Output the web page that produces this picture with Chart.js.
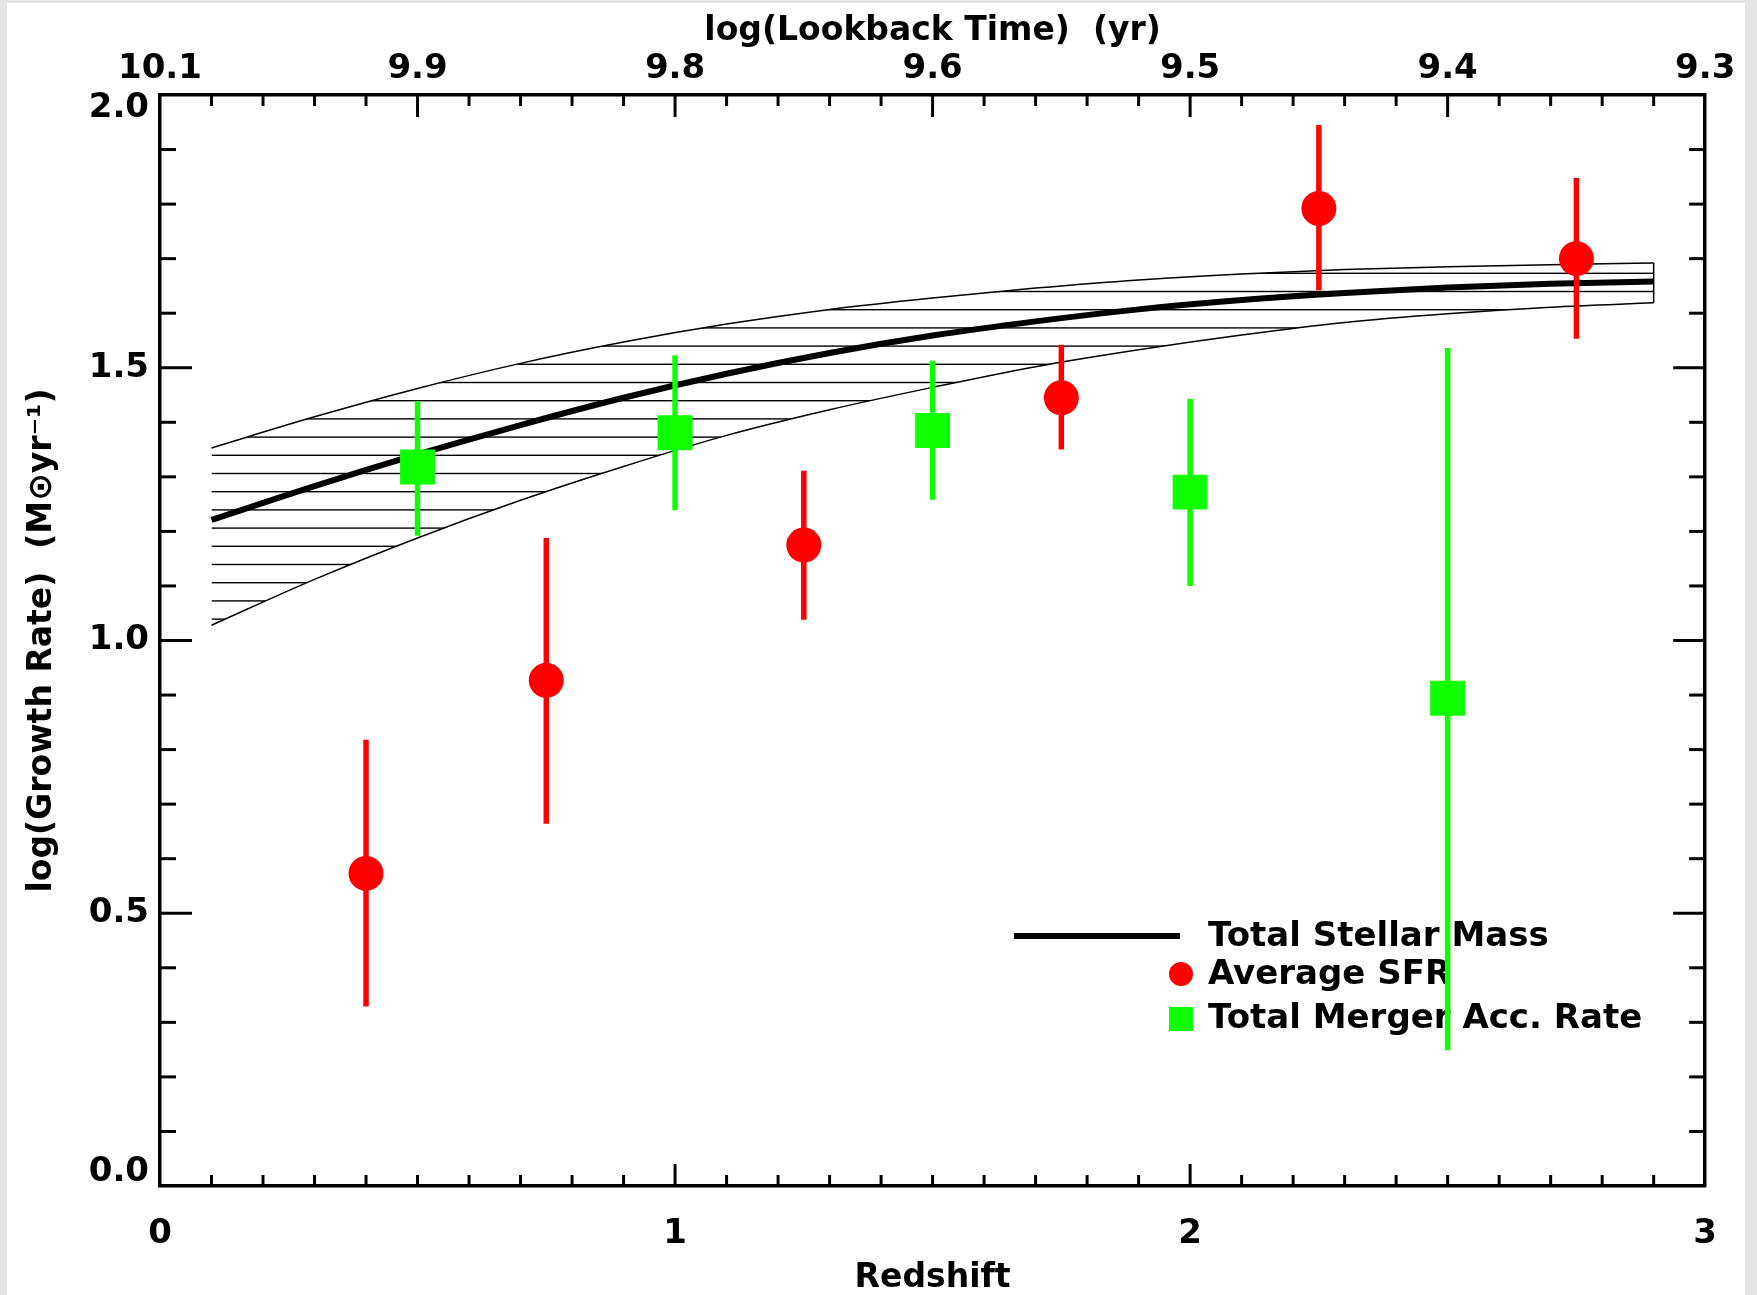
<!DOCTYPE html>
<html lang="en">
<head>
    <meta charset="UTF-8">
    <title>Growth Rate vs Redshift</title>
    <script src="https://cdn.jsdelivr.net/npm/chart.js"></script>
    <style>
        body { margin: 0; background: #e6e6e6; width: 1757px; height: 1295px; overflow: hidden; }
        #wrap { position: absolute; left: 7px; top: 3px; width: 1738px; height: 1292px; background: #fff; }
    </style>
</head>
<body>
    <div id="wrap">
        <canvas id="myChart" width="1738" height="1292"></canvas>
    </div>

<script>
// band of total stellar mass growth (redshift, lower, mid, upper)
const bandZ  = [0.1, 0.3, 0.5, 0.7, 0.9, 1.1, 1.3, 1.5, 1.7, 1.9, 2.1, 2.3, 2.5, 2.7, 2.9];
const massLo = [1.028, 1.112, 1.188, 1.257, 1.319, 1.376, 1.423, 1.464, 1.502, 1.533, 1.560, 1.583, 1.599, 1.611, 1.619];
const massMid = [1.221, 1.283, 1.341, 1.395, 1.445, 1.489, 1.527, 1.559, 1.585, 1.607, 1.624, 1.637, 1.647, 1.654, 1.658];
const massHi = [1.353, 1.410, 1.462, 1.508, 1.547, 1.580, 1.607, 1.628, 1.646, 1.661, 1.672, 1.680, 1.685, 1.689, 1.692];

// average SFR (red circles)
const sfrZ   = [0.4, 0.75, 1.25, 1.75, 2.25, 2.75];
const sfrVal = [0.573, 0.927, 1.175, 1.445, 1.792, 1.700];
const sfrLo  = [0.329, 0.664, 1.038, 1.350, 1.642, 1.553];
const sfrHi  = [0.818, 1.188, 1.311, 1.542, 1.945, 1.848];

// total merger accretion rate (green squares)
const mergerZ   = [0.5, 1.0, 1.5, 2.0, 2.5];
const mergerVal = [1.318, 1.381, 1.385, 1.272, 0.894];
const mergerLo  = [1.192, 1.239, 1.258, 1.100, 0.249];
const mergerHi  = [1.439, 1.523, 1.513, 1.443, 1.536];

// tick labels
const bottomTickPos = [0, 1, 2, 3];
const bottomTickLabels = ['0', '1', '2', '3'];
const topTickPos = [0, 0.5, 1, 1.5, 2, 2.5, 3];
const topTickLabels = ['10.1', '9.9', '9.8', '9.6', '9.5', '9.4', '9.3'];

const RED = '#ff0000';
const GREEN = '#10ff00';
const FONT = "'DejaVu Sans', sans-serif";

Chart.defaults.font.family = FONT;
Chart.defaults.color = '#000';

// horizontal hatch pattern for the band
const hatch = document.createElement('canvas');
hatch.width = 8;
hatch.height = 91;
const hctx = hatch.getContext('2d');
hctx.strokeStyle = '#000';
hctx.lineWidth = 1.4;
for (let k = 0; k < 5; k++) {
    const yy = (33.7 + 18.2 * k) % 91;
    hctx.beginPath();
    hctx.moveTo(0, yy);
    hctx.lineTo(8, yy);
    hctx.stroke();
}
const canvas = document.getElementById('myChart');
const hatchPattern = canvas.getContext('2d').createPattern(hatch, 'repeat');

const toPts = (xs, ys) => xs.map((x, i) => ({x: x, y: ys[i]}));

// vertical error bar segments, broken with nulls
function errBars(xs, lo, hi) {
    const pts = [];
    xs.forEach((x, i) => {
        pts.push({x: x, y: lo[i]}, {x: x, y: hi[i]}, {x: x, y: null});
    });
    return pts;
}

const last = bandZ.length - 1;

// inward ticks on all four sides
const tickPlugin = {
    id: 'inTicks',
    afterDraw(chart) {
        const {ctx, chartArea: a, scales} = chart;
        const seg = (x1, y1, x2, y2) => { ctx.beginPath(); ctx.moveTo(x1, y1); ctx.lineTo(x2, y2); ctx.stroke(); };
        ctx.save();
        ctx.strokeStyle = '#000';
        ctx.lineWidth = 3;
        for (let i = 1; i < 30; i++) {
            const px = scales.x.getPixelForValue(i / 10);
            seg(px, a.bottom, px, a.bottom - (i % 10 === 0 ? 22 : 11));
            seg(px, a.top, px, a.top + (i % 5 === 0 ? 22 : 11));
        }
        for (let i = 1; i < 20; i++) {
            const py = scales.y.getPixelForValue(i / 10);
            const len = i % 5 === 0 ? 32 : 16;
            seg(a.left, py, a.left + len, py);
            seg(a.right, py, a.right - len, py);
        }
        ctx.restore();
    }
};

// legend inside the plot, drawn under the data
const legendPlugin = {
    id: 'insideLegend',
    beforeDatasetsDraw(chart) {
        const ctx = chart.ctx;
        ctx.save();
        ctx.strokeStyle = '#000';
        ctx.lineWidth = 6;
        ctx.beginPath();
        ctx.moveTo(1007, 933);
        ctx.lineTo(1173, 933);
        ctx.stroke();
        ctx.fillStyle = RED;
        ctx.beginPath();
        ctx.arc(1174, 971, 12, 0, Math.PI * 2);
        ctx.fill();
        ctx.fillStyle = GREEN;
        ctx.fillRect(1162, 1004, 24, 24);
        ctx.fillStyle = '#000';
        ctx.font = 'bold 34px ' + FONT;
        ctx.textBaseline = 'middle';
        ctx.textAlign = 'left';
        ctx.fillText('Total Stellar Mass', 1201, 934);
        ctx.fillText('Average SFR', 1201, 972);
        ctx.fillText('Total Merger Acc. Rate', 1201, 1016);
        ctx.restore();
    }
};

const border = {display: true, color: '#000', width: 3.5};
const tickFont = {size: 34, weight: 'bold'};
const yTickFont = {size: 34, weight: 'bold', lineHeight: 0.8};
const titleFont = {size: 33, weight: 'bold'};
const bottomTitleFont = {size: 33, weight: 'bold', lineHeight: 1.0};

const bandLine = {borderColor: '#000', pointRadius: 0, cubicInterpolationMode: 'monotone'};

const config = {
    type: 'line',
    data: {
        datasets: [{
            label: 'Average SFR',
            data: toPts(sfrZ, sfrVal),
            showLine: false,
            pointStyle: 'circle',
            pointRadius: 17.5,
            pointBackgroundColor: RED,
            pointBorderWidth: 0,
            order: 0
        }, {
            label: 'Total Merger Acc. Rate',
            data: toPts(mergerZ, mergerVal),
            showLine: false,
            pointStyle: 'rect',
            pointRadius: 24.7,
            pointBackgroundColor: GREEN,
            pointBorderWidth: 0,
            order: 0
        }, {
            label: 'sfr err',
            data: errBars(sfrZ, sfrLo, sfrHi),
            borderColor: RED,
            borderWidth: 5.5,
            pointRadius: 0,
            spanGaps: false,
            order: 1
        }, {
            label: 'merger err',
            data: errBars(mergerZ, mergerLo, mergerHi),
            borderColor: GREEN,
            borderWidth: 5.5,
            pointRadius: 0,
            spanGaps: false,
            order: 1
        }, {
            ...bandLine,
            label: 'Total Stellar Mass',
            data: toPts(bandZ, massMid),
            borderWidth: 6,
            order: 2
        }, {
            ...bandLine,
            label: 'band lower',
            data: toPts(bandZ, massLo),
            borderWidth: 1.5,
            fill: false,
            order: 3
        }, {
            ...bandLine,
            label: 'band upper',
            data: toPts(bandZ, massHi),
            borderWidth: 1.5,
            fill: {target: 5},
            backgroundColor: hatchPattern,
            order: 3
        }, {
            label: 'band end',
            data: [{x: bandZ[last], y: massLo[last]}, {x: bandZ[last], y: massHi[last]}],
            borderColor: '#000',
            borderWidth: 1.5,
            pointRadius: 0,
            order: 3
        }]
    },
    options: {
        responsive: false,
        animation: false,
        layout: {padding: 0},
        plugins: {legend: {display: false}, tooltip: {enabled: false}},
        scales: {
            x: {
                type: 'linear', position: 'bottom', min: 0, max: 3,
                grid: {display: false, drawTicks: false},
                border: border,
                afterBuildTicks: s => { s.ticks = bottomTickPos.map(v => ({value: v})); },
                ticks: {font: tickFont, padding: 28, maxRotation: 0, autoSkip: false,
                    callback: (v, i) => bottomTickLabels[i]},
                title: {display: true, text: 'Redshift', font: bottomTitleFont, padding: {top: 0, bottom: 0}},
                afterFit: s => { s.height = 109; }
            },
            x2: {
                type: 'linear', position: 'top', min: 0, max: 3, display: true,
                grid: {display: false, drawTicks: false},
                border: border,
                afterBuildTicks: s => { s.ticks = topTickPos.map(v => ({value: v})); },
                ticks: {font: tickFont, padding: 5, maxRotation: 0, autoSkip: false,
                    callback: (v, i) => topTickLabels[i]},
                title: {display: true, text: 'log(Lookback Time)  (yr)', font: titleFont, padding: {top: 9, bottom: 0}},
                afterFit: s => { s.height = 92; }
            },
            y: {
                type: 'linear', position: 'left', min: 0, max: 2,
                grid: {display: false, drawTicks: false},
                border: border,
                ticks: {font: yTickFont, padding: 11, stepSize: 0.5,
                    // end labels sit inside the frame like the original
                    callback: v => v === 2 ? ['', v.toFixed(1)] : (v === 0 ? [v.toFixed(1), ''] : v.toFixed(1))},
                title: {display: true, text: 'log(Growth Rate)  (M\u2299yr\u207B\u00B9)', font: titleFont, padding: {top: 16, bottom: 0}},
                afterFit: s => { s.width = 153; }
            },
            y2: {
                type: 'linear', position: 'right', min: 0, max: 2, display: true,
                grid: {display: false, drawTicks: false},
                border: border,
                ticks: {display: false},
                afterFit: s => { s.width = 36; }
            }
        }
    },
    plugins: [legendPlugin, tickPlugin]
};

const myChart = new Chart(canvas, config);
</script>
</body>
</html>
